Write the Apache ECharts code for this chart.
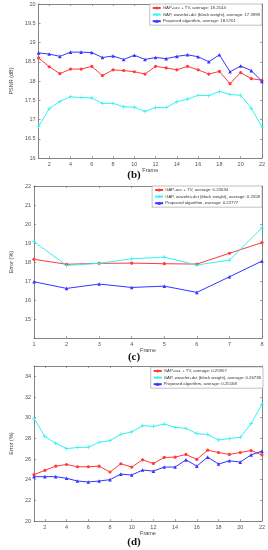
<!DOCTYPE html>
<html>
<head>
<meta charset="utf-8">
<script src="https://cdn.jsdelivr.net/npm/echarts@6/dist/echarts.min.js"></script>
<style>html,body{margin:0;padding:0;background:#fff}#c{width:268px;height:550px}</style>
</head>
<body>
<div id="c"></div>
<script>
// ---- data ----
var framesB = [1,2,3,4,5,6,7,8,9,10,11,12,13,14,15,16,17,18,19,20,21,22];
var redB  = [18.60,18.37,18.19,18.31,18.31,18.38,18.14,18.29,18.27,18.24,18.18,18.38,18.34,18.29,18.38,18.29,18.18,18.25,17.93,18.22,18.06,18.02];
var cyanB = [16.82,17.28,17.47,17.59,17.57,17.56,17.42,17.42,17.33,17.32,17.21,17.31,17.31,17.46,17.53,17.63,17.62,17.73,17.65,17.63,17.29,16.81];
var blueB = [18.73,18.70,18.64,18.75,18.75,18.74,18.61,18.65,18.56,18.67,18.56,18.61,18.58,18.64,18.68,18.63,18.50,18.68,18.24,18.39,18.27,17.99];

var framesC = [1,2,3,4,5,6,7,8];
var redC  = [18.14,17.88,17.93,17.94,17.91,17.89,18.46,19.02];
var cyanC = [19.07,17.82,17.93,18.17,18.26,17.84,18.10,19.80];
var blueC = [16.96,16.61,16.84,16.66,16.73,16.40,17.22,18.05];

var framesD = [1,2,3,4,5,6,7,8,9,10,11,12,13,14,15,16,17,18,19,20,21,22];
var redD  = [24.48,24.90,25.31,25.47,25.25,25.25,25.31,24.74,25.54,25.22,25.92,25.57,26.15,26.18,26.44,25.96,26.85,26.63,26.44,26.63,26.82,26.40];
var cyanD = [29.93,28.17,27.53,27.01,27.11,27.14,27.62,27.78,28.39,28.62,29.22,29.16,29.38,29.06,28.97,28.46,28.36,27.85,27.97,28.10,29.42,31.28];
var blueD = [24.29,24.29,24.29,24.13,23.87,23.78,23.87,24.00,24.54,24.45,24.93,24.83,25.22,25.22,25.92,25.31,26.18,25.51,25.83,25.70,26.40,26.76];

var namesB = ['GAP-acc + TV, average: 18.2544','GAP, wavelet+dct (block weight), average: 17.3999','Proposed algorithm, average: 18.5701'];
var namesC = ['GAP-acc + TV, average: 0.23634','GAP, wavelet+dct (block weight), average: 0.2558','Proposed algorithm, average: 0.22777'];
var namesD = ['GAP-acc + TV, average: 0.25957','GAP, wavelet+dct (block weight), average: 0.26738','Proposed algorithm, average: 0.25168'];

var xTicksB = [2,4,6,8,10,12,14,16,18,20,22];
var yTicksB = [16,16.5,17,17.5,18,18.5,19,19.5,20];
var xTicksC = [1,2,3,4,5,6,7,8];
var yTicksC = [14,15,16,17,18,19,20,21,22];
var yLabelsC = [15,16,17,18,19,20,21,22];
var xTicksD = [2,4,6,8,10,12,14,16,18,20,22];
var yTicksD = [20,22,24,26,28,30,32,34];

var captions = ['(b)','(c)','(d)'];
// ---- end data ----

var RED='#ff3b3b', CYAN='#33f2f2', BLUE='#3535ff';
var AX='#666';
var font='"Liberation Sans", Arial, sans-serif';
var PLUS='path://M-0.18,-1h0.36v0.82h0.82v0.36h-0.82v0.82h-0.36v-0.82h-0.82v-0.36h0.82z';

function pairs(xs, ys){ return xs.map(function(x,i){return [x, ys[i]];}); }

var grids = [
  {left:19, right:6, top:4, height:154},
  {left:19, right:6, top:186, height:152},
  {left:14, right:5, top:366, height:155}
];

var xA=[], yA=[];
function addAxes(gi, xmin, xmax, xt, xl, ymin, ymax, yt, yl, yname, ynameGap){
  var base = {gridIndex:gi, type:'value', min:xmin, max:xmax,
    axisLine:{show:true, lineStyle:{color:AX, width:0.8}},
    splitLine:{show:false}};
  xA.push(Object.assign({}, base, {position:'bottom',
    name:'Frame', nameLocation:'middle', nameGap:8,
    nameTextStyle:{fontSize:5.5, color:'#444', fontFamily:font},
    axisTick:{inside:true, length:2, lineStyle:{color:AX, width:0.6}, customValues:xt},
    axisLabel:{fontSize:5.5, color:'#555', fontFamily:font, margin:3, customValues:xl}}));
  xA.push(Object.assign({}, base, {position:'top',
    axisTick:{inside:true, length:2, lineStyle:{color:AX, width:0.6}, customValues:xt},
    axisLabel:{show:false}}));
  var ybase = {gridIndex:gi, type:'value', min:ymin, max:ymax,
    axisLine:{show:true, lineStyle:{color:AX, width:0.8}},
    splitLine:{show:false}};
  yA.push(Object.assign({}, ybase, {position:'left',
    name:yname, nameLocation:'middle', nameGap:ynameGap,
    nameTextStyle:{fontSize:5.5, color:'#444', fontFamily:font},
    axisTick:{inside:true, length:2, lineStyle:{color:AX, width:0.6}, customValues:yt},
    axisLabel:{fontSize:5.5, color:'#555', fontFamily:font, margin:3, customValues:yl}}));
  yA.push(Object.assign({}, ybase, {position:'right',
    axisTick:{inside:true, length:2, lineStyle:{color:AX, width:0.6}, customValues:yt},
    axisLabel:{show:false}}));
}
addAxes(0, 1, 22, xTicksB, xTicksB, 16, 20, yTicksB, yTicksB, 'PSNR (dB)', 12);
addAxes(1, 1, 8, xTicksC, xTicksC, 14, 22, yTicksC, yLabelsC, 'Error (%)', 12);
addAxes(2, 1, 22, xTicksD, xTicksD, 20, 35, yTicksD, yTicksD, 'Error (%)', 8);

var series=[];
function addSeries(gi, xs, r, c, b, names){
  var spec=[[r,RED,'circle',3.2],[c,CYAN,PLUS,4],[b,BLUE,'triangle',3.6]];
  spec.forEach(function(s,k){
    series.push({type:'line', name:names[k], xAxisIndex:gi*2, yAxisIndex:gi*2,
      data:pairs(xs,s[0]), symbol:s[2], symbolSize:s[3], showSymbol:true,
      itemStyle:{color:s[1]}, lineStyle:{color:s[1], width:1}, animation:false});
  });
}
addSeries(0, framesB, redB, cyanB, blueB, namesB);
addSeries(1, framesC, redC, cyanC, blueC, namesC);
addSeries(2, framesD, redD, cyanD, blueD, namesD);

function mkLegend(names, top, right){
  return {data:names, orient:'vertical', right:right, top:top,
    itemWidth:8, itemHeight:4, itemGap:2.6, padding:[2,2,2,2],
    backgroundColor:'#fff', borderColor:'#999', borderWidth:0.6,
    textStyle:{fontSize:4.3, color:'#333', fontFamily:font, padding:[0,0,0,-3]},
    selectedMode:false};
}

var capY=[176, 358, 543];
var graphic = captions.map(function(t,i){
  return {type:'text', left:'center', top:capY[i]-6,
    style:{text:t, font:'bold 11px "Liberation Serif", "DejaVu Serif", serif', fill:'#111'}};
});

var chart = echarts.init(document.getElementById('c'), null, {renderer:'canvas'});
chart.setOption({
  animation:false,
  backgroundColor:'#fff',
  grid:grids,
  xAxis:xA, yAxis:yA,
  legend:[mkLegend(namesB,4,6), mkLegend(namesC,186,6), mkLegend(namesD,367,5)],
  series:series,
  graphic:graphic
});
</script>
</body>
</html>
